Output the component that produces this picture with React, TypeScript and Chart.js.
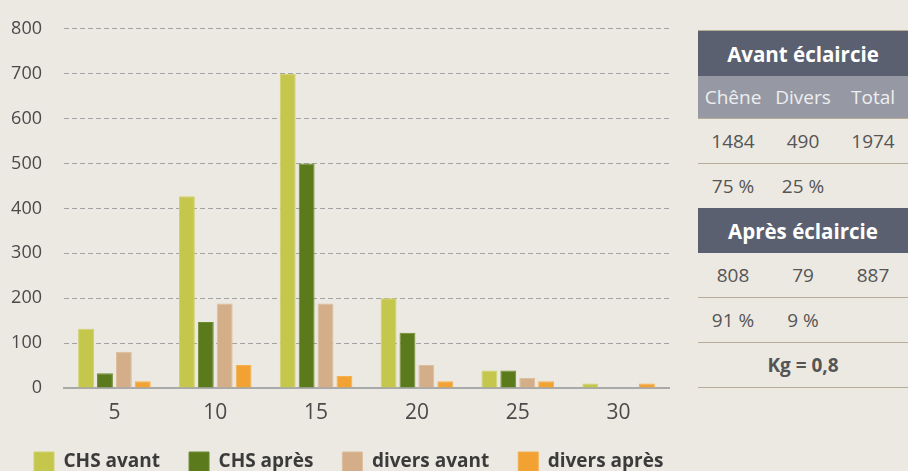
import React, { useEffect, useRef } from "react";
import { Chart, registerables } from "chart.js";

Chart.register(...registerables);

const categories = ["5", "10", "15", "20", "25", "30"];
const chsAvant = [132, 427, 700, 200, 39, 10];
const chsApres = [33, 147, 500, 123, 39, 0];
const diversAvant = [81, 188, 188, 51, 22, 0];
const diversApres = [15, 51, 27, 15, 15, 10];
const seriesLabels = ["CHS avant", "CHS après", "divers avant", "divers après"];
const yTicks = [0, 100, 200, 300, 400, 500, 600, 700, 800];

const tableAvantTitle = "Avant éclaircie";
const tableColumns = ["Chêne", "Divers", "Total"];
const avantCounts = ["1484", "490", "1974"];
const avantPct = ["75 %", "25 %", ""];
const tableApresTitle = "Après éclaircie";
const apresCounts = ["808", "79", "887"];
const apresPct = ["91 %", "9 %", ""];
const kgText = "Kg = 0,8";

const FONT = "'Open Sans', 'DejaVu Sans', sans-serif";
const BG = "#ece9e2";

export default function App() {
  const ref = useRef<HTMLCanvasElement | null>(null);

  useEffect(() => {
    if (!ref.current) return;
    const colors = ["#c4c74c", "#5b7a1b", "#d3ae89", "#f2a232"];
    const borders = ["#cfd26a", "#6d8b30", "#ddbd9c", "#f5b04e"];
    const values = [chsAvant, chsApres, diversAvant, diversApres];
    const chart = new Chart(ref.current, {
      type: "bar",
      data: {
        labels: categories,
        datasets: values.map((v, i) => ({
          label: seriesLabels[i],
          data: v,
          backgroundColor: colors[i],
          borderColor: borders[i],
          borderWidth: 1,
          categoryPercentage: 0.75,
          barPercentage: 0.84,
        })),
      },
      options: {
        responsive: false,
        animation: false,
        devicePixelRatio: 1,
        layout: { padding: { left: 5, right: 0, top: 14, bottom: 0 } },
        plugins: {
          tooltip: { enabled: false },
          legend: {
            position: "bottom",
            align: "start",
            labels: {
              boxWidth: 20,
              boxHeight: 20,
              padding: 29,
              color: "#3b3b3b",
              font: { family: FONT, size: 19, weight: "bold" },
            },
          },
        },
        scales: {
          x: {
            grid: { display: false },
            border: { display: true, color: "#a9a9a9", width: 2 },
            afterFit: (s: any) => {
              s.height = 35;
            },
            ticks: {
              color: "#4a4a4a",
              font: { family: FONT, size: 21 },
              padding: 4,
            },
          },
          y: {
            min: 0,
            max: 800,
            afterFit: (s: any) => {
              s.width = 59;
            },
            afterBuildTicks: (s: any) => {
              s.ticks = yTicks.map((v) => ({ value: v }));
            },
            grid: { color: "#a3a3a3", lineWidth: 1, drawTicks: false },
            border: { display: false, dash: [5, 3] },
            ticks: {
              color: "#4a4a4a",
              font: { family: FONT, size: 18 },
              padding: 22,
            },
          },
          yRight: {
            position: "right",
            display: true,
            grid: { display: false },
            border: { display: false },
            ticks: { display: false },
            afterFit: (s: any) => {
              s.width = 27;
            },
          },
        },
      },
    });
    return () => chart.destroy();
  }, []);

  const cell: React.CSSProperties = {
    width: 70,
    textAlign: "center",
    fontSize: 19,
    color: "#555",
    fontFamily: FONT,
  };
  const row = (vals: string[], key: string) => (
    <div
      key={key}
      style={{ display: "flex", height: 44, alignItems: "center", borderBottom: "1px solid #b5ad98" }}
    >
      {vals.map((v, i) => (
        <div key={i} style={cell}>
          {v}
        </div>
      ))}
    </div>
  );
  const header = (t: string) => (
    <div
      style={{
        height: 45,
        background: "#5a6070",
        color: "#fff",
        fontWeight: "bold",
        fontSize: 20.5,
        fontFamily: FONT,
        display: "flex",
        alignItems: "center",
        justifyContent: "center",
      }}
    >
      {t}
    </div>
  );

  return (
    <div
      style={{
        position: "fixed",
        left: 0,
        top: 0,
        width: 908,
        height: 471,
        background: BG,
        overflow: "hidden",
      }}
    >
      <div style={{ position: "absolute", left: 0, top: -4 }}>
        <canvas ref={ref} width={696} height={486} />
      </div>
      <div style={{ position: "absolute", left: 698, top: 30, width: 210, borderTop: "1px solid #b5ad98" }}>
        {header(tableAvantTitle)}
        <div
          style={{
            display: "flex",
            height: 42,
            alignItems: "center",
            background: "#9699a4",
            borderBottom: "1px solid #b5ad98",
          }}
        >
          {tableColumns.map((c, i) => (
            <div key={i} style={{ ...cell, color: "#eeeef0" }}>
              {c}
            </div>
          ))}
        </div>
        {row(avantCounts, "a1")}
        <div style={{ display: "flex", height: 44, alignItems: "center" }}>
          {avantPct.map((v, i) => (
            <div key={i} style={cell}>
              {v}
            </div>
          ))}
        </div>
        {header(tableApresTitle)}
        {row(apresCounts, "b1")}
        {row(apresPct, "b2")}
        <div
          style={{
            height: 44,
            display: "flex",
            alignItems: "center",
            justifyContent: "center",
            borderBottom: "1px solid #b5ad98",
            fontWeight: "bold",
            fontSize: 19,
            color: "#555",
            fontFamily: FONT,
          }}
        >
          {kgText}
        </div>
      </div>
    </div>
  );
}
